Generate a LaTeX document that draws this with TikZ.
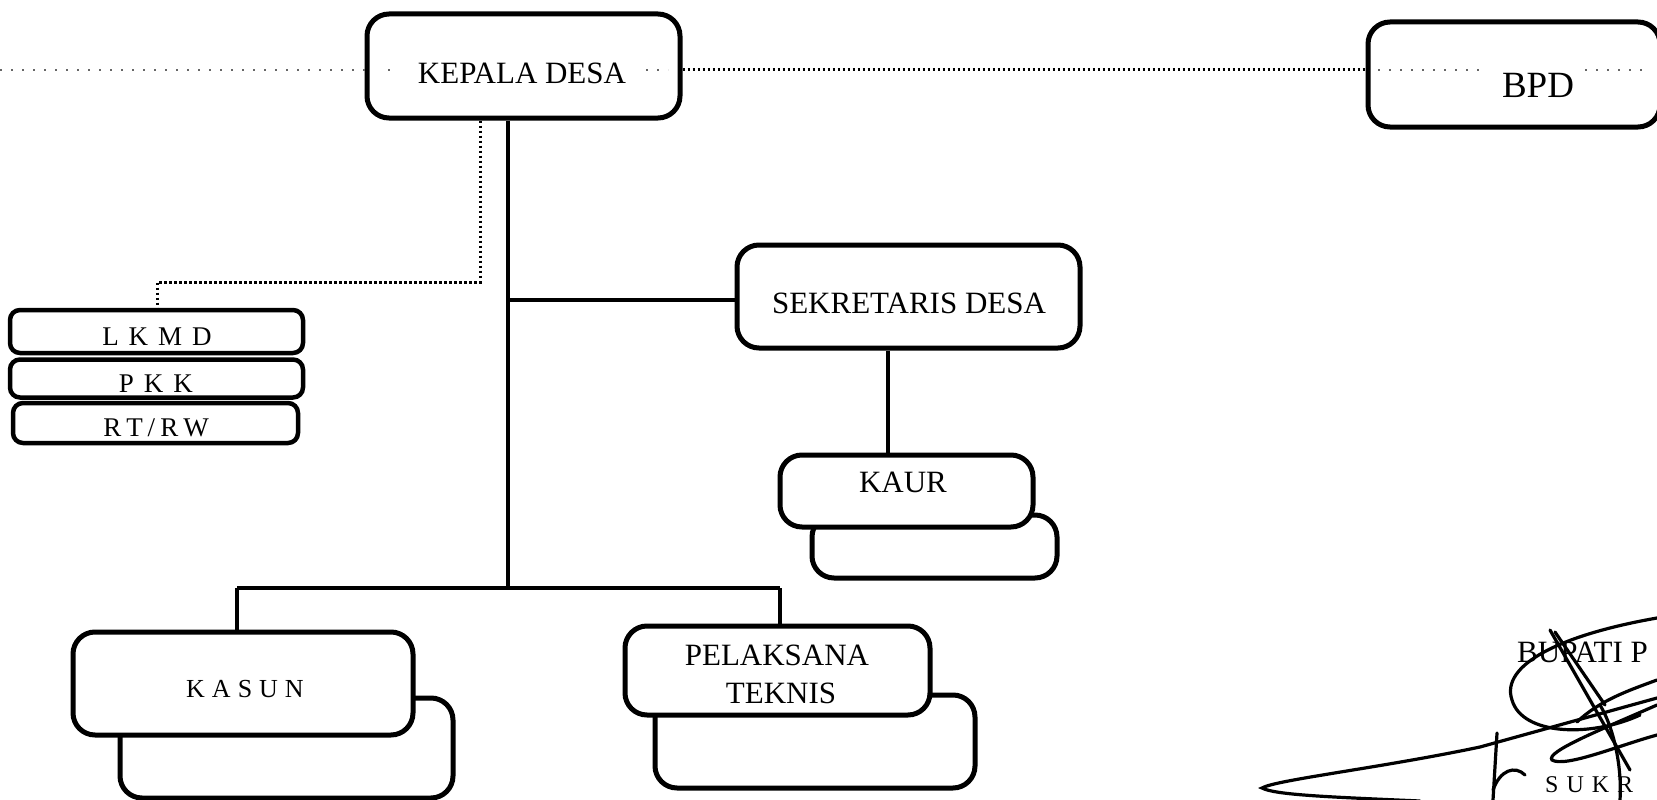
\documentclass[tikz,border=0pt]{standalone}
\usepackage{fontspec}
\setmainfont{Liberation Serif}
\begin{document}
\begin{tikzpicture}[x=1pt,y=-1pt,
  box/.style={draw, line width=5pt, rounded corners=22pt, fill=white, inner sep=0pt},
  sbox/.style={draw, line width=4.5pt, rounded corners=10pt, fill=white, inner sep=0pt},
  link/.style={line width=4.5pt},
  dots/.style={line width=3pt, dash pattern=on 2.5pt off 2.5pt},
  faint/.style={line width=1.8pt, dash pattern=on 2pt off 9pt, black!60},
  lbl/.style={inner sep=0pt, anchor=base, font=\fontsize{31}{36}\selectfont},
  slbl/.style={inner sep=0pt, anchor=base, font=\fontsize{27}{30}\selectfont},
  sig/.style={line width=3.2pt, line cap=round}
]
\useasboundingbox (0,0) rectangle (1657,800);
\begin{scope}
\clip (0,0) rectangle (1657,800);

% ---- back (shadow) boxes ----
\node[box, minimum width=245pt, minimum height=63pt] (kaurb) at (934.5,546.5) {};
\node[box, minimum width=333pt, minimum height=100pt] (kasunb) at (286.5,748) {};
\node[box, minimum width=320pt, minimum height=93pt] (ptb) at (815,741.5) {};

% ---- main boxes ----
\node[box, minimum width=313pt, minimum height=104pt] (kd) at (523.5,66) {};
\node[box, minimum width=292pt, minimum height=105pt] (bpd) at (1514,74.5) {};
\node[box, minimum width=343pt, minimum height=103pt] (sd) at (908.5,296.5) {};
\node[box, minimum width=253pt, minimum height=72pt] (kaur) at (906.5,491) {};
\node[box, minimum width=340pt, minimum height=103pt] (kasun) at (243,683.5) {};
\node[box, minimum width=305pt, minimum height=89pt] (pt) at (777.5,670.5) {};

\node[sbox, minimum width=293pt, minimum height=43pt] (lkmd) at (156.5,331.5) {};
\node[sbox, minimum width=293pt, minimum height=38pt] (pkk) at (156.5,378.5) {};
\node[sbox, minimum width=285pt, minimum height=40pt] (rtrw) at (155.5,423) {};

% ---- labels ----
\node[lbl] (tkd) at (522,83) {KEPALA DESA};
\node[lbl, font=\fontsize{37}{40}\selectfont] (tbpd) at (1538,97) {BPD};
\node[lbl] (tsd) at (909,313) {SEKRETARIS DESA};
\node[lbl] (tkaur) at (903,492) {KAUR};
\node[lbl] (tpt1) at (777,665) {PELAKSANA};
\node[lbl] (tpt2) at (781,703) {TEKNIS};
\node[slbl, font=\fontsize{26}{30}\selectfont] (tkasun) at (245,697) {K\kern7pt A\kern7pt S\kern7pt U\kern7pt N};
\node[slbl] (tlkmd) at (157,345) {L\kern10pt K\kern10pt M\kern10pt D};
\node[slbl] (tpkk) at (156,392) {P\kern10pt K\kern10pt K};
\node[slbl] (trtrw) at (156,436) {R\kern5pt T\kern5pt /\kern5pt R\kern5pt W};
\node[lbl, anchor=base west] (tbup) at (1517,662) {BUPATI P};
\node[slbl, anchor=base west, font=\fontsize{24}{28}\selectfont] (tsuk) at (1545,792) {S\kern8pt U\kern8pt K\kern8pt R};

% ---- solid connectors ----
\coordinate (tx) at (508,0);
\coordinate (j1) at (508,300);
\coordinate (j2) at (508,588);
\coordinate (kx) at (888,0);
\coordinate (b1) at (237,588);
\coordinate (b2) at (780,588);
\draw[link] (kd.south -| tx) -- (j2);
\draw[link] (j1) -- (j1 -| sd.west);
\draw[link] (sd.south -| kx) -- (kaur.north -| kx);
\draw[link] (b1) -- (b2);
\draw[link] (b1) -- (b1 |- kasun.north);
\draw[link] (b2) -- (b2 |- pt.north);

% ---- dotted connectors ----
\coordinate (dl) at (0,70);
\coordinate (d0) at (480,0);
\coordinate (d1) at (480,282);
\coordinate (d2) at (157,282);
\draw[dots] (kd.east |- dl) -- (bpd.west |- dl);
\draw[faint] (dl) -- (kd.west |- dl);
\draw[dots] (kd.south -| d0) -- (d1) -- (d2) -- (lkmd.north -| d2);
% fragments of the line seen inside the boxes
\draw[faint] (388,70) -- (392,70);
\draw[faint] (646,70) -- (668,70);
\draw[faint] (1378,70) -- (1480,70);
\draw[faint] (1585,70) -- (1650,70);

% ---- signature ----
\draw[sig] (1657,618) .. controls (1560,635) and (1500,665) .. (1512,700)
           .. controls (1522,735) and (1590,738) .. (1640,715);
\draw[sig] (1657,698) -- (1480,747) .. controls (1380,768) and (1275,780) .. (1262,788)
           .. controls (1275,795) and (1330,797) .. (1420,801);
\draw[sig] (1555,632) -- (1605,705);
\draw[sig] (1550,630) -- (1630,770);
\draw[sig] (1657,705) .. controls (1600,730) and (1545,752) .. (1552,760)
           .. controls (1565,768) and (1620,745) .. (1657,735);
\draw[sig] (1577,722) .. controls (1600,700) and (1630,690) .. (1657,680);
\draw[sig] (1497,733) -- (1493,800);
\draw[sig] (1493,790) .. controls (1500,770) and (1515,765) .. (1525,775);
\draw[sig] (1600,705) .. controls (1615,730) and (1622,770) .. (1620,800);
\end{scope}
\end{tikzpicture}
\end{document}
